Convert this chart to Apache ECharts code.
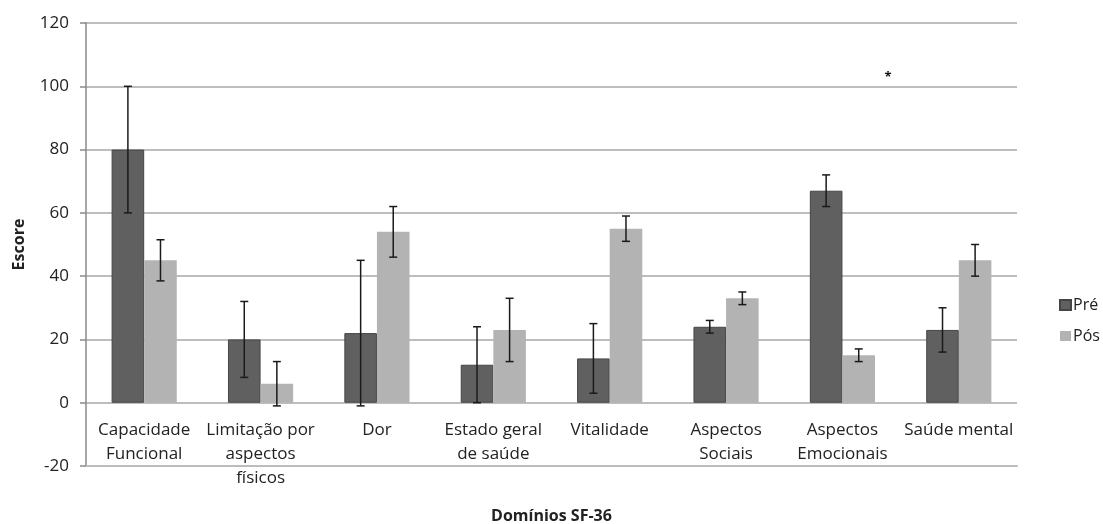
<!DOCTYPE html>
<html>
<head>
<meta charset="utf-8">
<script src="https://cdn.jsdelivr.net/npm/echarts@6/dist/echarts.min.js"></script>
<style>
  html, body { margin: 0; padding: 0; background: #fff; }
  #chart { width: 1103px; height: 524px; }
</style>
</head>
<body>
<div id="chart"></div>
<script>
"use strict";
// Domínios SF-36, pré e pós
var categories = [
    'Capacidade\nFuncional',
    'Limitação por\naspectos\nfísicos',
    'Dor',
    'Estado geral\nde saúde',
    'Vitalidade',
    'Aspectos\nSociais',
    'Aspectos\nEmocionais',
    'Saúde mental'
];
var preValues = [80, 20, 22, 12, 14, 24, 67, 23];
var preErrors = [20, 12, 23, 12, 11, 2, 5, 7];
var posValues = [45, 6, 54, 23, 55, 33, 15, 45];
var posErrors = [6.5, 7, 8, 10, 4, 2, 2, 5];
var yTicks = { min: -20, max: 120, interval: 20 };
var starValue = 104;

var FONT = '"Open Sans", "DejaVu Sans", sans-serif';

function errorData(values, errors) {
    return values.map(function (v, i) { return [i, v - errors[i], v + errors[i]]; });
}

// desenha a barra de erro no centro de cada barra
function errorRenderer(side) {
    return function (params, api) {
        var idx = api.value(0);
        var lo = api.coord([idx, api.value(1)]);
        var hi = api.coord([idx, api.value(2)]);
        var band = api.size([1, 0])[0];
        var barW = band * 0.28;
        var x = lo[0] + side * barW / 2;
        var cap = 4;
        var style = { stroke: '#1a1a1a', lineWidth: 1.5 };
        return {
            type: 'group',
            children: [
                { type: 'line', shape: { x1: x, y1: hi[1], x2: x, y2: lo[1] }, style: style },
                { type: 'line', shape: { x1: x - cap, y1: hi[1], x2: x + cap, y2: hi[1] }, style: style },
                { type: 'line', shape: { x1: x - cap, y1: lo[1], x2: x + cap, y2: lo[1] }, style: style }
            ]
        };
    };
}

var myChart = echarts.init(document.getElementById('chart'));
var option = {
    animation: false,
    backgroundColor: '#fff',
    textStyle: { fontFamily: FONT },
    grid: { left: 86, right: 86, top: 23, bottom: 58, containLabel: false, outerBoundsMode: 'none' },
    legend: {
        data: ['Pré', 'Pós'],
        orient: 'vertical',
        left: 1054,
        top: 292,
        itemWidth: 11,
        itemHeight: 10,
        itemGap: 15,
        icon: 'rect',
        textStyle: { fontFamily: FONT, fontSize: 16, color: '#222', padding: [0, 0, 0, -3] }
    },
    xAxis: {
        type: 'category',
        data: categories,
        name: 'Domínios SF-36',
        nameLocation: 'middle',
        nameGap: 42,
        nameTextStyle: { fontFamily: FONT, fontSize: 16, fontWeight: 'bold', color: '#222' },
        axisLine: { onZero: false, lineStyle: { color: '#bdbdbd', width: 2 } },
        axisTick: { show: false },
        axisLabel: {
            interval: 0,
            margin: -48,
            fontFamily: FONT,
            fontSize: 17,
            lineHeight: 24,
            color: '#222'
        }
    },
    yAxis: {
        type: 'value',
        min: yTicks.min,
        max: yTicks.max,
        interval: yTicks.interval,
        name: 'Escore',
        nameLocation: 'middle',
        nameGap: 59,
        nameTextStyle: { fontFamily: FONT, fontSize: 16, fontWeight: 'bold', color: '#222' },
        axisLine: { show: true, lineStyle: { color: '#8a8a8a', width: 1.5 } },
        axisTick: { show: true, length: 6, lineStyle: { color: '#8a8a8a', width: 1.5 } },
        axisLabel: { margin: 17, fontFamily: FONT, fontSize: 17, color: '#222' },
        splitLine: { lineStyle: { color: '#bdbdbd', width: 2 } }
    },
    series: [
        {
            name: 'Pré',
            type: 'bar',
            data: preValues,
            barGap: '0%',
            barCategoryGap: '44%',
            itemStyle: { color: '#606060', borderColor: '#454545', borderWidth: 1 },
            markPoint: {
                symbol: 'circle',
                symbolSize: 0,
                label: { show: true, formatter: '*', color: '#111', fontSize: 13, fontWeight: 'bold', offset: [62, 4] },
                data: [{ coord: [6, starValue] }]
            }
        },
        {
            name: 'Pós',
            type: 'bar',
            data: posValues,
            itemStyle: { color: '#b3b3b3' }
        },
        {
            name: 'erroPre',
            type: 'custom',
            renderItem: errorRenderer(-1),
            encode: { x: 0, y: [1, 2] },
            data: errorData(preValues, preErrors),
            z: 10
        },
        {
            name: 'erroPos',
            type: 'custom',
            renderItem: errorRenderer(1),
            encode: { x: 0, y: [1, 2] },
            data: errorData(posValues, posErrors),
            z: 10
        }
    ]
};
myChart.setOption(option);

window.onresize = function () {
    myChart.resize();
};
</script>
</body>
</html>
